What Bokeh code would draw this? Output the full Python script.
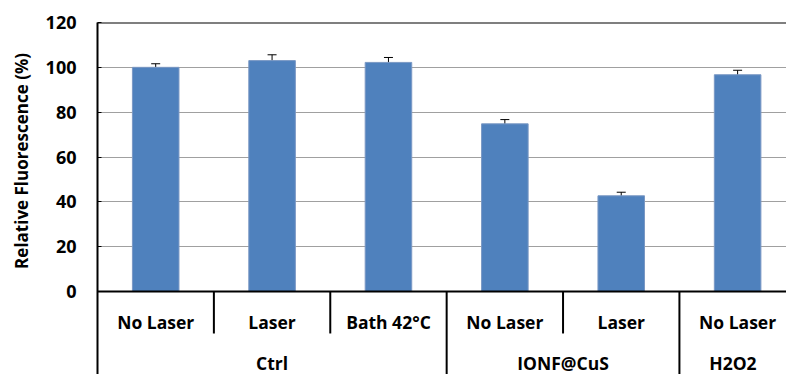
from bokeh.plotting import figure
from bokeh.models import ColumnDataSource, Range1d, FixedTicker, Span, Whisker
from bokeh.core.properties import value
from bokeh.embed import file_html
from bokeh.resources import INLINE

# ---- data ----
groups = ["Ctrl", "Ctrl", "Ctrl", "IONF@CuS", "IONF@CuS", "H2O2"]
conditions = ["No Laser", "Laser", "Bath 42°C", "No Laser", "Laser", "No Laser"]
values = [100.0, 103.0, 102.2, 74.8, 42.7, 96.7]
errors = [1.6, 2.6, 2.2, 1.9, 1.6, 2.0]
y_ticks = [0, 20, 40, 60, 80, 100, 120]
y_title = "Relative Fluorescence (%)"

FONT = "Open Sans"
n = len(values)
x_pos = [i + 0.5 for i in range(n)]

Y_MIN = -37.0
X_MAX = 5.92

p = figure(width=786, height=374, output_backend="svg", toolbar_location=None,
           x_range=Range1d(0, X_MAX), y_range=Range1d(Y_MIN, 120),
           x_axis_location=None, min_border_left=97, min_border_top=22,
           min_border_right=0, min_border_bottom=0)
p.outline_line_color = None
p.background_fill_color = "white"
p.border_fill_color = "white"

# y axis
ax = p.yaxis[0]
ax.ticker = FixedTicker(ticks=y_ticks)
ax.minor_tick_line_color = None
ax.major_tick_in = 4
ax.major_tick_out = 0
ax.major_tick_line_color = "black"
ax.major_tick_line_width = 1
ax.axis_line_color = "black"
ax.axis_line_width = 2
ax.major_label_text_font = FONT
ax.major_label_text_font_style = "bold"
ax.major_label_text_font_size = "18px"
ax.major_label_text_color = "black"
ax.major_label_standoff = 21
# leading non-breaking spaces lift the title so it is centred on the 0..120 span
ax.axis_label = "\u00a0" * 17 + y_title
ax.axis_label_text_font = FONT
ax.axis_label_text_font_style = "bold"
ax.axis_label_text_font_size = "17px"
ax.axis_label_text_color = "black"
ax.axis_label_standoff = 10

p.ygrid.ticker = FixedTicker(ticks=y_ticks[1:-1])
p.ygrid.grid_line_color = "#A0A0A0"
p.ygrid.grid_line_width = 1.2
p.xgrid.grid_line_color = None

# bars
src = ColumnDataSource(dict(
    x=x_pos, top=values,
    lower=[v - e for v, e in zip(values, errors)],
    upper=[v + e for v, e in zip(values, errors)],
))
p.vbar(x="x", top="top", width=0.4, bottom=0, source=src,
       fill_color="#4F81BD", line_color="#7A98C4", line_width=1)

w = Whisker(base="x", lower="lower", upper="upper", source=src,
            line_color="black", line_width=1)
w.upper_head.size = 9
w.lower_head.size = 9
w.upper_head.line_color = "black"
w.lower_head.line_color = "black"
p.add_layout(w)

# top border and baseline
p.add_layout(Span(location=120, dimension="width", line_color="black", line_width=2))
p.add_layout(Span(location=0, dimension="width", line_color="black", line_width=2))

# category separators
sx, sy0, sy1 = [], [], []
for i in range(1, n):
    sx.append(i)
    sy0.append(0)
    sy1.append(Y_MIN if groups[i] != groups[i - 1] else -18.7)
p.segment(x0=sx, y0=sy0, x1=sx, y1=sy1, line_color="black", line_width=2)

# condition labels
p.text(x=x_pos, y=[-13.4] * n, text=conditions, text_align="center",
       text_baseline="middle", text_font=value(FONT), text_font_style="bold",
       text_font_size="17.5px", text_color="black")

# group labels
g_names, g_x = [], []
start = 0
for i in range(1, n + 1):
    if i == n or groups[i] != groups[start]:
        end = min(i, X_MAX)
        g_names.append(groups[start])
        g_x.append((start + end) / 2)
        start = i
p.text(x=g_x, y=[-32.0] * len(g_x), text=g_names, text_align="center",
       text_baseline="middle", text_font=value(FONT), text_font_style="bold",
       text_font_size="17.5px", text_color="black")

open("out.html", "w").write(file_html(p, INLINE))
